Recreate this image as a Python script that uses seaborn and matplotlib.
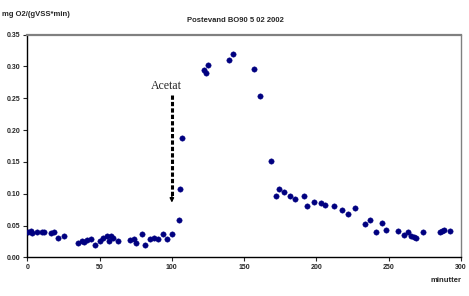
import matplotlib
matplotlib.use("Agg")
import matplotlib.pyplot as plt
import seaborn as sns
import pandas as pd

minutter = [0.7, 2.6, 3.5, 6.7, 10.0, 11.8, 16.2, 18.7, 21.5, 25.2,
            34.9, 37.9, 39.3, 41.1, 44.1, 47.1, 50.3, 52.6, 55.0, 56.6,
            58.0, 59.6, 62.6, 71.1, 73.8, 75.4, 79.6, 81.3, 84.7, 87.5,
            90.7, 94.0, 96.5, 100.2, 104.6, 105.9, 107.3, 122.1, 123.5, 125.3,
            139.4, 142.4, 156.5, 160.7, 168.8, 171.7, 174.0, 177.7, 181.8, 185.3,
            191.5, 193.4, 198.3, 203.3, 205.9, 211.9, 217.9, 221.6, 226.4, 233.4,
            237.1, 241.4, 245.1, 248.2, 256.5, 260.6, 263.1, 265.7, 267.3, 268.9,
            273.8, 285.8, 287.1, 288.5, 292.6]
respiration = [0.040, 0.042, 0.038, 0.040, 0.039, 0.039, 0.038, 0.039, 0.031, 0.033,
               0.022, 0.025, 0.024, 0.027, 0.028, 0.020, 0.026, 0.031, 0.033, 0.026,
               0.033, 0.030, 0.026, 0.027, 0.028, 0.022, 0.037, 0.019, 0.029, 0.031,
               0.029, 0.037, 0.028, 0.036, 0.058, 0.107, 0.188, 0.295, 0.289, 0.302,
               0.310, 0.320, 0.296, 0.254, 0.152, 0.096, 0.107, 0.102, 0.097, 0.091,
               0.096, 0.080, 0.087, 0.085, 0.083, 0.080, 0.074, 0.068, 0.078, 0.053,
               0.058, 0.039, 0.054, 0.043, 0.042, 0.035, 0.040, 0.033, 0.032, 0.031,
               0.039, 0.039, 0.041, 0.043, 0.042]
x_ticks = [0, 50, 100, 150, 200, 250, 300]
y_ticks = [0.00, 0.05, 0.10, 0.15, 0.20, 0.25, 0.30, 0.35]
acetat_time = 100
acetat_top = 0.255
acetat_tip = 0.086
acetat_head = 0.010

df = pd.DataFrame({"minutter": minutter, "resp": respiration})

sns.set_style("white")
plt.rcParams['font.family'] = ['Liberation Sans', 'DejaVu Sans']

fig = plt.figure(figsize=(4.69, 2.96), dpi=100)
ax = fig.add_axes([27.3 / 469, 1 - 257.3 / 296, (461 - 27.3) / 469, (257.3 - 34.7) / 296])

sns.scatterplot(data=df, x="minutter", y="resp", ax=ax, color="#000080",
                marker="o", s=15, edgecolor="#000080", linewidth=0.3, legend=False, zorder=3)

ax.set_xlim(0, 300)
ax.set_ylim(0, 0.35)
ax.set_xticks(x_ticks)
ax.set_xticklabels([str(t) for t in x_ticks])
ax.set_yticks(y_ticks)
ax.set_yticklabels([f"{t:.2f}" for t in y_ticks])
ax.tick_params(axis="both", labelsize=5, length=3, width=0.8, direction="out",
               bottom=True, left=True, pad=2)
for lab in ax.get_xticklabels() + ax.get_yticklabels():
    lab.set_fontweight("bold")
ax.set_xlabel("")
ax.set_ylabel("")

for side in ["left", "bottom"]:
    ax.spines[side].set_color("black")
    ax.spines[side].set_linewidth(1.0)
ax.spines["top"].set_color("#808080")
ax.spines["top"].set_linewidth(1.6)
ax.spines["right"].set_color("#808080")
ax.spines["right"].set_linewidth(1.0)

# Acetat arrow: dashed shaft + small solid head
ax.plot([acetat_time, acetat_time], [acetat_top, acetat_tip + acetat_head],
        color="black", lw=2.2, dashes=(1.4, 0.7), solid_capstyle="butt",
        dash_capstyle="butt", zorder=2)
ax.annotate("", xy=(acetat_time, acetat_tip), xytext=(acetat_time, acetat_tip + acetat_head),
            arrowprops=dict(arrowstyle="-|>", lw=1.0, color="black",
                            mutation_scale=6, shrinkA=0, shrinkB=0))
ax.text(acetat_time - 4, acetat_top + 0.005, "Acetat", ha="center", va="bottom",
        fontsize=8.5, family=["Liberation Serif", "DejaVu Serif"])

fig.text(235 / 469, 1 - 20 / 296, "Postevand BO90 5 02 2002", ha="center", va="center",
         fontsize=5.5, fontweight="bold")
fig.text(2 / 469, 1 - 15 / 296, "mg O2/(gVSS*min)", ha="left", va="center",
         fontsize=5.5, fontweight="bold")
fig.text(461 / 469, 1 - 280 / 296, "minutter", ha="right", va="center",
         fontsize=5.5, fontweight="bold")

fig.savefig("out.png", dpi=100, facecolor="white")
